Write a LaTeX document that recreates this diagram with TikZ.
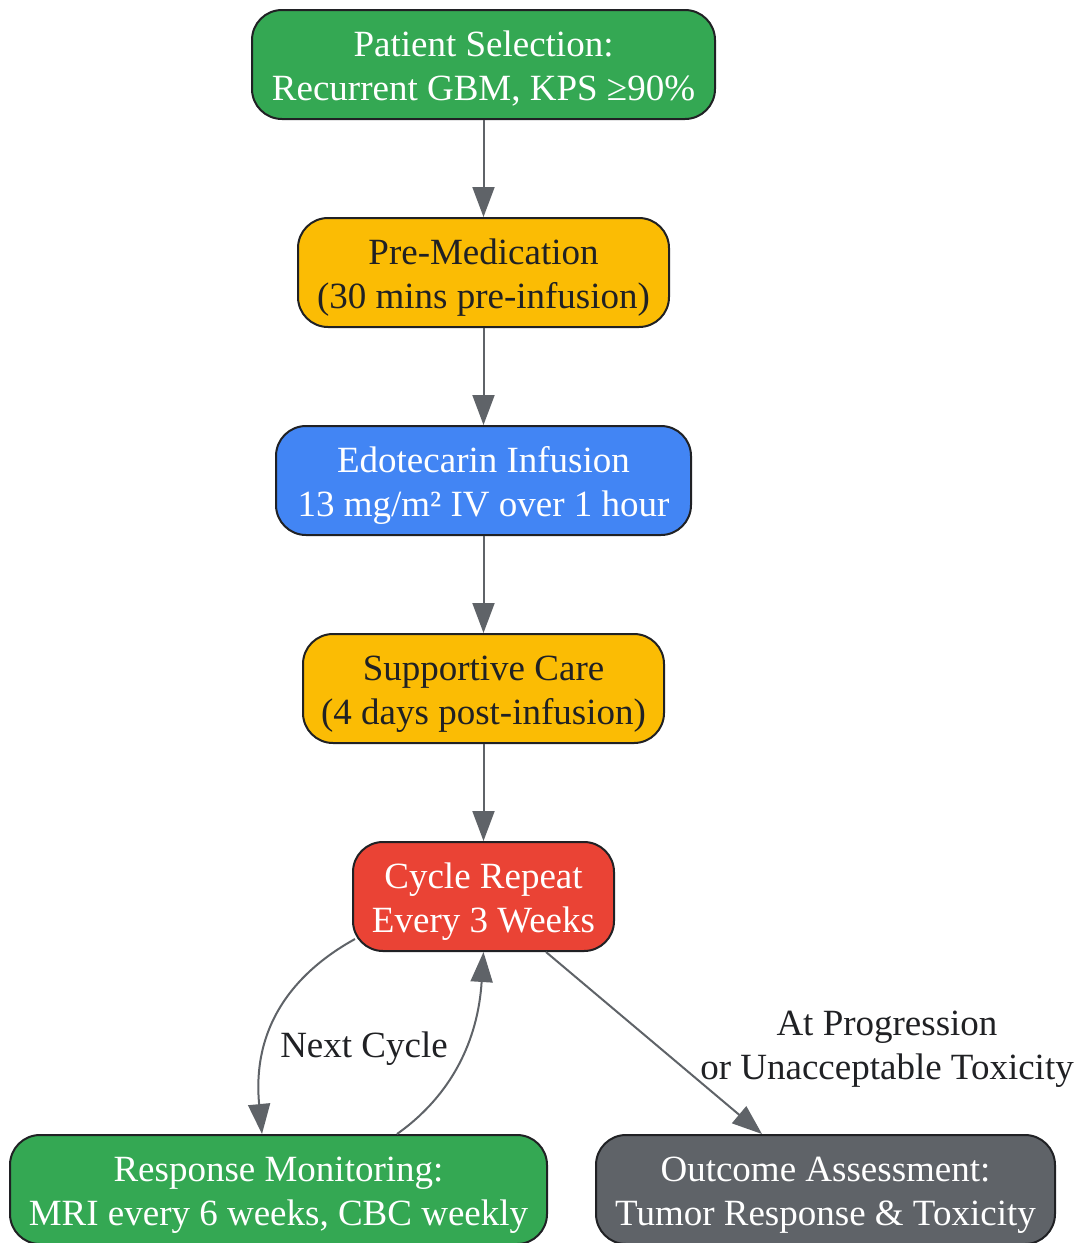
\documentclass[tikz,border=0pt]{standalone}
\usepackage{fontspec}
\setmainfont{Liberation Serif}
\usetikzlibrary{arrows.meta}
\definecolor{gsel}{HTML}{34A853}
\definecolor{gyel}{HTML}{FBBC04}
\definecolor{gblu}{HTML}{4285F4}
\definecolor{gred}{HTML}{EA4335}
\definecolor{ggry}{HTML}{5F6368}
\definecolor{gdark}{HTML}{202124}
\tikzset{
  stepbox/.style={draw=gdark, line width=2pt, rectangle, rounded corners=30pt,
    minimum height=109pt, align=center, inner sep=0pt,
    font=\fontsize{37}{44}\selectfont, text height=80pt, text depth=9pt},
  lbl/.style={align=center, text=gdark, font=\fontsize{37}{44}\selectfont},
  flow/.style={draw=ggry, line width=2pt, -{Triangle[length=30pt,width=22pt]}}
}
\begin{document}
\begin{tikzpicture}[x=1pt,y=-1pt]
            \useasboundingbox (0,0) rectangle (1076,1243);
            \node [stepbox, fill=gsel, text=white, minimum width=463pt] (sel) at (483.5,64.5) {Patient Selection:\\Recurrent GBM, KPS ≥90\%};
            \node [stepbox, fill=gyel, text=gdark, minimum width=371pt] (premed) at (483.5,272.5) {Pre-Medication\\(30 mins pre-infusion)};
            \node [stepbox, fill=gblu, text=white, minimum width=415pt] (infus) at (483.5,480.5) {Edotecarin Infusion\\13 mg/m² IV over 1 hour};
            \node [stepbox, fill=gyel, text=gdark, minimum width=361pt] (supp) at (483.5,688.5) {Supportive Care\\(4 days post-infusion)};
            \node [stepbox, fill=gred, text=white, minimum width=261pt] (cycle) at (483.5,896.5) {Cycle Repeat\\Every 3 Weeks};
            \node [stepbox, fill=gsel, text=white, minimum width=537pt] (resp) at (278.5,1189.5) {Response Monitoring:\\MRI every 6 weeks, CBC weekly};
            \node [stepbox, fill=ggry, text=white, minimum width=459pt] (outc) at (825.5,1189.5) {Outcome Assessment:\\Tumor Response \& Toxicity};
            \draw [flow] (sel.south) -- (premed.north);
            \draw [flow] (premed.south) -- (infus.north);
            \draw [flow] (infus.south) -- (supp.north);
            \draw [flow] (supp.south) -- (cycle.north);
            \draw [flow] ([xshift=3pt,yshift=13pt]cycle.south west) .. controls (290,975) and (252,1030) .. ([xshift=-16.5pt]resp.north);
            \draw [flow] ([xshift=118.5pt]resp.north) .. controls (452,1095) and (478,1040) .. (cycle.south);
            \draw [flow] ([xshift=62.5pt]cycle.south) -- ([xshift=-63.5pt]outc.north);
            \node [lbl] (nextlbl) at (364,1049) {Next Cycle};
            \node [lbl] (proglbl) at (887,1049) {At Progression\\or Unacceptable Toxicity};
\end{tikzpicture}
\end{document}
